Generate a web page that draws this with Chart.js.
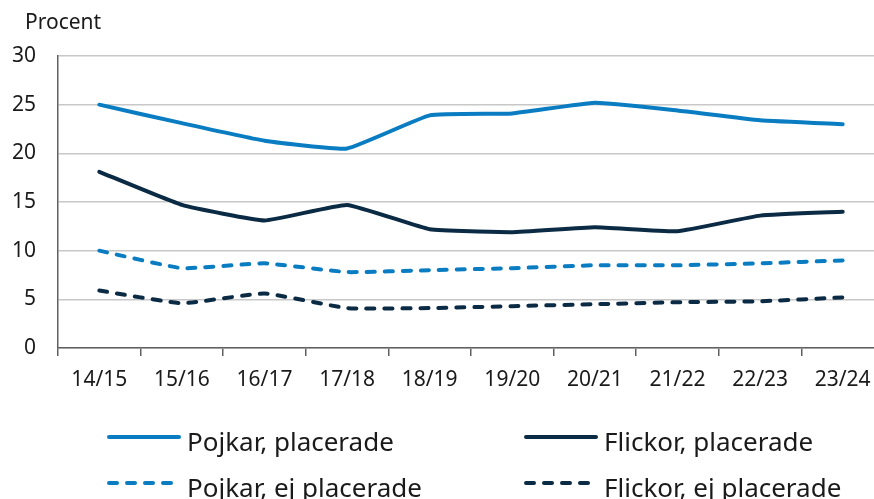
<!DOCTYPE html>
<html>
<head>
<meta charset="utf-8">
<script src="https://cdn.jsdelivr.net/npm/chart.js@4/dist/chart.umd.min.js"></script>
<style>
  html, body { margin: 0; padding: 0; overflow: hidden; background: #fff; }
  #wrap { position: relative; width: 884px; height: 499px; }
</style>
</head>
<body>
<div id="wrap"><canvas id="chart"></canvas></div>
<script>
const years = ['14/15', '15/16', '16/17', '17/18', '18/19', '19/20', '20/21', '21/22', '22/23', '23/24'];
const pojkarPlacerade = [25.0, 23.1, 21.3, 20.5, 23.9, 24.1, 25.2, 24.4, 23.4, 23.0];
const flickorPlacerade = [18.1, 14.7, 13.1, 14.7, 12.2, 11.9, 12.4, 12.0, 13.6, 14.0];
const pojkarEjPlacerade = [10.0, 8.2, 8.7, 7.8, 8.0, 8.2, 8.5, 8.5, 8.7, 9.0];
const flickorEjPlacerade = [5.9, 4.6, 5.6, 4.1, 4.1, 4.3, 4.5, 4.7, 4.8, 5.2];
const yTicks = [0, 5, 10, 15, 20, 25, 30];

const ljusBla = '#0a7dc2';
const morkBla = '#0b2b45';
const fontFamily = '"Noto Sans", "Open Sans", sans-serif';

function serie(label, data, color, dashed) {
    return {
        label: label,
        data: data,
        borderColor: color,
        backgroundColor: color,
        borderWidth: 4,
        borderDash: dashed ? [8, 10] : [],
        borderCapStyle: 'round',
        borderJoinStyle: 'round',
        pointRadius: 0,
        tension: 0.12,
        fill: false
    };
}

// Titel och legend ritas för hand
const extraText = {
    id: 'extraText',
    afterDraw(chart) {
        const ctx = chart.ctx;
        ctx.save();
        ctx.fillStyle = '#1a1a1a';
        ctx.font = '21px ' + fontFamily;
        ctx.textBaseline = 'alphabetic';
        ctx.textAlign = 'left';
        ctx.fillText('Procent', 25, 29);

        const items = [
            { x: 107, y: 437, ds: 0 },
            { x: 524, y: 437, ds: 1 },
            { x: 107, y: 483, ds: 2 },
            { x: 524, y: 483, ds: 3 }
        ];
        ctx.font = '26px ' + fontFamily;
        items.forEach(it => {
            const ds = chart.data.datasets[it.ds];
            ctx.strokeStyle = ds.borderColor;
            ctx.lineWidth = 4;
            ctx.lineCap = 'round';
            ctx.setLineDash(ds.borderDash);
            ctx.beginPath();
            ctx.moveTo(it.x + 2, it.y);
            ctx.lineTo(it.x + 72, it.y);
            ctx.stroke();
            ctx.setLineDash([]);
            ctx.fillStyle = '#1a1a1a';
            ctx.fillText(ds.label, it.x + 80, it.y + 14);
        });
        ctx.restore();
    }
};

new Chart(document.getElementById('chart'), {
    type: 'line',
    data: {
        labels: years,
        datasets: [
            serie('Pojkar, placerade', pojkarPlacerade, ljusBla, false),
            serie('Flickor, placerade', flickorPlacerade, morkBla, false),
            serie('Pojkar, ej placerade', pojkarEjPlacerade, ljusBla, true),
            serie('Flickor, ej placerade', flickorEjPlacerade, morkBla, true)
        ]
    },
    options: {
        responsive: true,
        maintainAspectRatio: false,
        animation: false,
        layout: { padding: { top: 56, right: 0, left: 0, bottom: 0 } },
        plugins: {
            legend: { display: false },
            tooltip: { enabled: false }
        },
        scales: {
            x: {
                offset: true,
                afterFit: s => { s.height = 151; },
                grid: {
                    offset: true,
                    drawOnChartArea: false,
                    drawTicks: true,
                    tickLength: 8,
                    color: '#606060',
                    lineWidth: 1.5
                },
                border: { color: '#606060', width: 1.5 },
                ticks: {
                    color: '#1a1a1a',
                    font: { family: fontFamily, size: 21 },
                    padding: 11,
                    maxRotation: 0,
                    autoSkip: false
                }
            },
            y: {
                min: 0,
                max: 30,
                afterFit: s => { s.width = 58; },
                afterBuildTicks: s => { s.ticks = yTicks.map(v => ({ value: v })); },
                grid: {
                    color: '#c8c8c8',
                    lineWidth: 1.5,
                    drawTicks: false
                },
                border: { color: '#606060', width: 1.5 },
                ticks: {
                    color: '#1a1a1a',
                    font: { family: fontFamily, size: 21 },
                    padding: 22
                }
            }
        }
    },
    plugins: [extraText]
});
</script>
</body>
</html>
